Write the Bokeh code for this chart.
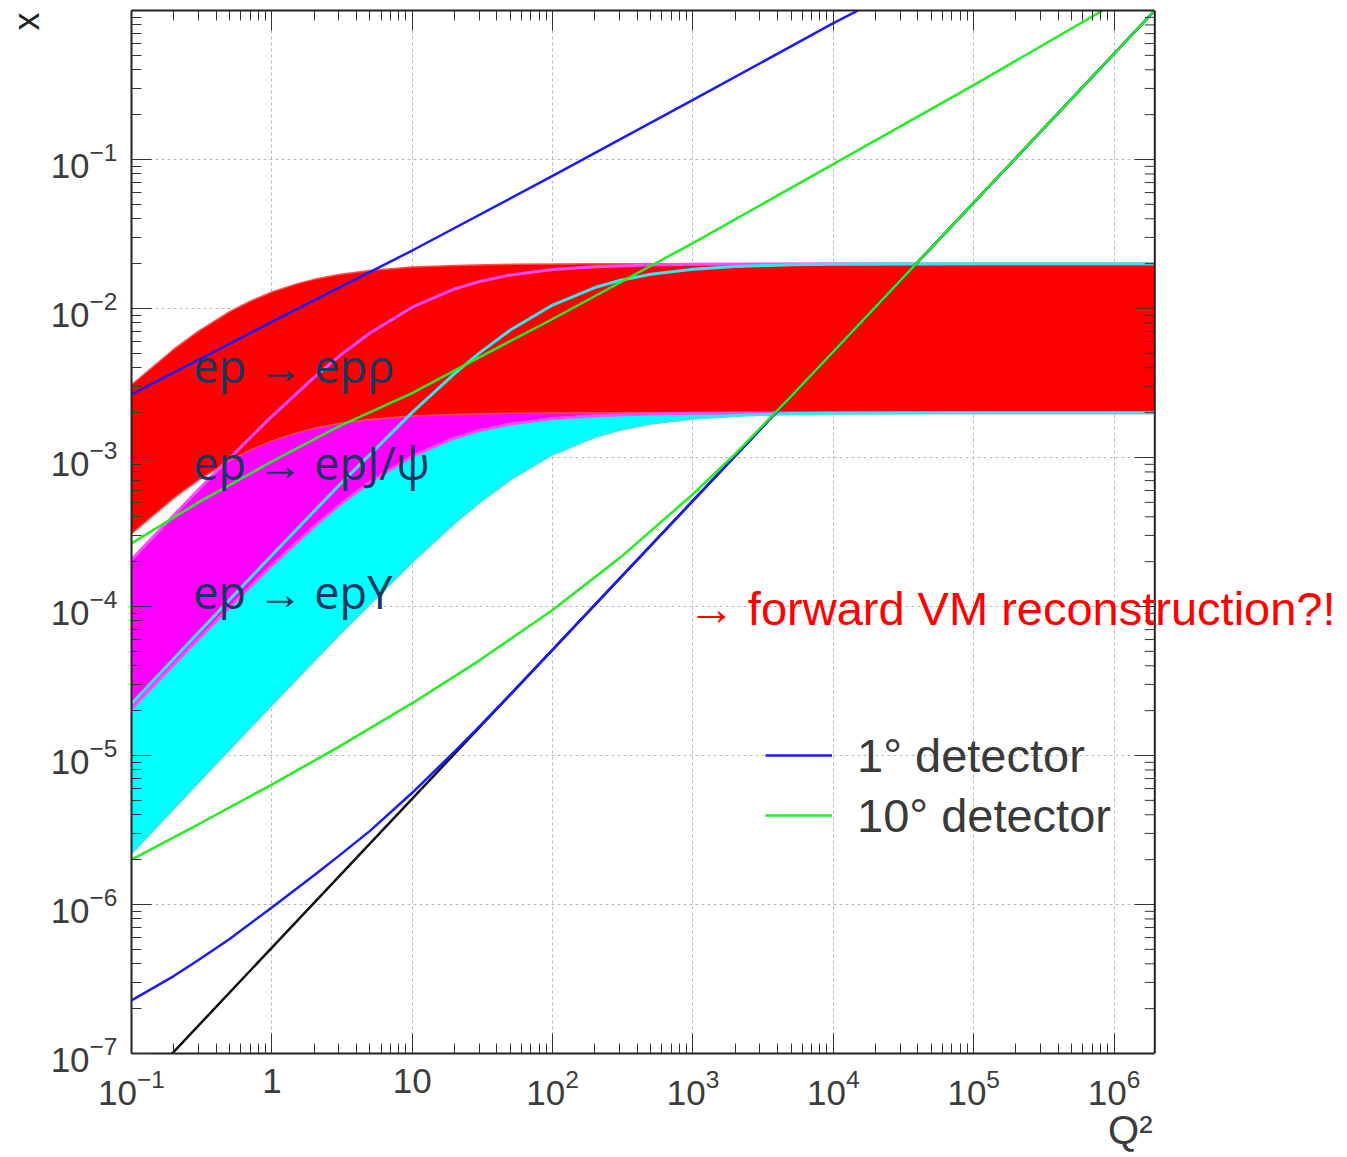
import math
from bokeh.plotting import figure
from bokeh.models import (LogAxis, FixedTicker, Label, Legend, LegendItem, Range1d, Span, Title)
from bokeh.embed import file_html
from bokeh.resources import INLINE

# ---------------- data ----------------
# ep -> ep rho band
q2_rho = [0.1, 0.2, 0.3, 0.5, 0.7, 1, 1.5, 2, 3, 5, 10, 20, 50, 200, 1.95e6]
x_rho_hi = [0.00308, 0.00533, 0.00706, 0.00952, 0.0112, 0.0129, 0.01463, 0.01569,
            0.0169, 0.0180, 0.01896, 0.01946, 0.01978, 0.01995, 0.0200]
x_rho_lo = [0.000308, 0.000533, 0.000706, 0.000952, 0.00112, 0.00129, 0.001463, 0.001569,
            0.00169, 0.00180, 0.001896, 0.001946, 0.001978, 0.001995, 0.00200]

# ep -> ep J/psi band
q2_jpsi = [0.1, 0.2, 0.3, 0.5, 1, 2, 3, 5, 10, 20, 30, 50, 100, 200, 500, 1000, 1e4, 1.95e6]
x_jpsi_hi = [2.06e-4, 4.09e-4, 6.07e-4, 9.91e-4, 1.89e-3, 3.45e-3, 4.77e-3, 6.85e-3, 1.021e-2,
             1.352e-2, 1.516e-2, 1.678e-2, 1.825e-2, 1.908e-2, 1.962e-2, 1.981e-2, 1.998e-2, 2.0e-2]
x_jpsi_lo = [2.06e-5, 4.09e-5, 6.07e-5, 9.91e-5, 1.89e-4, 3.45e-4, 4.77e-4, 6.85e-4, 1.021e-3,
             1.352e-3, 1.516e-3, 1.678e-3, 1.825e-3, 1.908e-3, 1.962e-3, 1.981e-3, 1.998e-3, 2.0e-3]

# ep -> ep Upsilon band
q2_ups = [0.1, 0.3, 1, 3, 10, 20, 30, 50, 100, 200, 300, 500, 1000, 2000, 5000, 1e4, 1e5, 1.95e6]
x_ups_hi = [2.23e-5, 6.68e-5, 2.21e-4, 6.49e-4, 2.01e-3, 3.65e-3, 5.02e-3, 7.17e-3, 1.055e-2,
            1.382e-2, 1.540e-2, 1.696e-2, 1.836e-2, 1.914e-2, 1.965e-2, 1.982e-2, 1.998e-2, 2.0e-2]
x_ups_lo = [2.23e-6, 6.68e-6, 2.21e-5, 6.49e-5, 2.01e-4, 3.65e-4, 5.02e-4, 7.17e-4, 1.055e-3,
            1.382e-3, 1.540e-3, 1.696e-3, 1.836e-3, 1.914e-3, 1.965e-3, 1.982e-3, 1.998e-3, 2.0e-3]

# kinematic limit (black)
q2_black = [0.1, 1.95e6]
x_black = [5.13e-8, 1.0]

# 1 degree detector (blue)
q2_blue_up = [0.1, 1, 10, 100, 1000, 1e4, 1.5e4]
x_blue_up = [2.65e-3, 8.13e-3, 2.45e-2, 7.76e-2, 0.251, 0.822, 1.0]
q2_blue_lo = [0.1, 0.2, 0.3, 0.5, 1, 2, 3, 5, 10, 20, 30, 50, 100, 1000, 1e4, 1e5, 1.95e6]
x_blue_lo = [2.27e-7, 3.31e-7, 4.24e-7, 5.87e-7, 9.55e-7, 1.57e-6, 2.12e-6, 3.12e-6, 5.62e-6,
             1.062e-5, 1.563e-5, 2.576e-5, 5.13e-5, 5.13e-4, 5.13e-3, 5.13e-2, 1.0]

# 10 degree detector (green)
q2_green_up = [0.1, 0.3, 1, 3, 10, 30, 100, 1000, 1e4, 1e5, 8.3e5]
x_green_up = [2.65e-4, 5.0e-4, 9.4e-4, 1.62e-3, 2.7e-3, 4.7e-3, 8.5e-3, 2.75e-2, 9.3e-2, 0.316, 1.0]
q2_green_lo = [0.1, 0.3, 1, 3, 10, 30, 100, 300, 1000, 2000, 5000, 1e4, 1e5, 1.95e6]
x_green_lo = [2.0e-6, 3.455e-6, 6.38e-6, 1.143e-5, 2.244e-5, 4.335e-5, 9.48e-5, 2.113e-4,
              5.675e-4, 1.059e-3, 2.576e-3, 5.13e-3, 5.13e-2, 1.0]

legend_labels = ["1° detector", "10° detector"]
x_major = [0.1, 1.0, 10.0, 100.0, 1e3, 1e4, 1e5, 1e6]
y_major = [1e-7, 1e-6, 1e-5, 1e-4, 1e-3, 1e-2, 1e-1]

# ---------------- figure ----------------
X_MAX = 1.95e6          # right edge of the drawn frame
X_END = 4.6e7           # canvas right edge (room for the red note)
p = figure(width=1347, height=1157, x_axis_type="log", y_axis_type="log",
           x_range=Range1d(0.1, X_END), y_range=Range1d(1e-7, 1.0),
           output_backend="svg", toolbar_location=None,
           min_border_left=131, min_border_right=0, min_border_top=10, min_border_bottom=104,
           background_fill_color="white", border_fill_color="white")
p.outline_line_color = None

x_minor = [k * m for m in x_major for k in range(2, 10) if k * m <= X_MAX]
y_minor = [k * m for m in y_major for k in range(2, 10)]

tick_font = "Liberation Sans"
frame_col = "#222222"
for ax, major, minor in [(p.xaxis[0], x_major, x_minor), (p.yaxis[0], y_major, y_minor)]:
    ax.ticker = FixedTicker(ticks=major, minor_ticks=minor)
    ax.major_tick_in = 20
    ax.major_tick_out = 0
    ax.minor_tick_in = 10
    ax.minor_tick_out = 0
    ax.axis_line_width = 2
    ax.axis_line_color = frame_col
    ax.major_tick_line_color = "#333333"
    ax.minor_tick_line_color = "#333333"
    ax.major_label_text_font = tick_font
    ax.major_label_text_font_size = "35px"
    ax.major_label_text_color = "#3c3c3c"

p.xaxis[0].bounds = (0.1, X_MAX)
p.xaxis[0].major_label_standoff = 15
p.xaxis[0].major_label_overrides = {1.0: "1", 10.0: "10"}
p.yaxis[0].major_label_standoff = 14

top = LogAxis(ticker=FixedTicker(ticks=x_major, minor_ticks=x_minor), bounds=(0.1, X_MAX),
              major_tick_in=20, major_tick_out=0, minor_tick_in=10, minor_tick_out=0,
              axis_line_width=2, axis_line_color=frame_col,
              major_tick_line_color="#333333", minor_tick_line_color="#333333",
              major_label_text_font_size="1px", major_label_text_color=None,
              major_label_standoff=0)
p.add_layout(top, "above")

# axis titles (placed in the side panels)
p.add_layout(Title(text="Q²", align="right", offset=195, standoff=0, vertical_align="top",
                   text_font=tick_font, text_font_size="40px", text_font_style="normal",
                   text_line_height=0.9, text_color="#3c3c3c"), "below")
p.add_layout(Title(text="x", align="right", offset=2, standoff=0, vertical_align="middle",
                   text_font=tick_font, text_font_size="36px", text_font_style="normal",
                   text_color="#222222"), "left")

p.xgrid[0].bounds = (0.1, X_MAX)
for g in (p.xgrid[0], p.ygrid[0]):
    g.grid_line_color = "#b8b8b8"
    g.grid_line_dash = "3 3"
    g.grid_line_width = 1

# white area right of the frame (hides the horizontal grid there)
p.quad(left=[X_MAX], right=[X_END], bottom=[1e-7], top=[1.0],
       fill_color="white", line_color=None)

# bands
p.varea(x=q2_ups, y1=x_ups_lo, y2=x_ups_hi, fill_color="#00ffff")
p.varea(x=q2_jpsi, y1=x_jpsi_lo, y2=x_jpsi_hi, fill_color="#ff00ff")
p.varea(x=q2_rho, y1=x_rho_lo, y2=x_rho_hi, fill_color="#ff0000")

p.line(q2_rho, x_rho_hi, line_color="#ff5050", line_width=1.5)
p.line(q2_rho, x_rho_lo, line_color="#ff5050", line_width=1.5)
p.line(q2_jpsi, x_jpsi_hi, line_color="#ff48ff", line_width=3)
p.line(q2_jpsi, x_jpsi_lo, line_color="#ff48ff", line_width=3)
p.line(q2_ups, x_ups_hi, line_color="#30e8f0", line_width=3)
p.line(q2_ups, x_ups_lo, line_color="#30e8f0", line_width=3)

# kinematic lines
p.line(q2_black, x_black, line_color="#111111", line_width=2.5)
r_blue = p.line(q2_blue_up, x_blue_up, line_color="#1a1aff", line_width=2.5)
p.line(q2_blue_lo, x_blue_lo, line_color="#1a1aff", line_width=2.5)
r_green = p.line(q2_green_up, x_green_up, line_color="#22ee22", line_width=2.5)
p.line(q2_green_lo, x_green_lo, line_color="#22ee22", line_width=2.5)

# right frame edge with inward ticks
p.ray(x=[X_MAX] * len(y_major), y=y_major, length=20, angle=math.pi,
      length_units="screen", line_color="#333333", line_width=1)
p.ray(x=[X_MAX] * len(y_minor), y=y_minor, length=10, angle=math.pi,
      length_units="screen", line_color="#333333", line_width=1)
p.add_layout(Span(location=X_MAX, dimension="height", line_color=frame_col, line_width=2))

legend = Legend(items=[LegendItem(label=legend_labels[0], renderers=[r_blue]),
                       LegendItem(label=legend_labels[1], renderers=[r_green])],
                location=(634, 208), orientation="vertical",
                glyph_width=67, glyph_height=60, label_height=60, spacing=0,
                padding=0, margin=0, label_standoff=25,
                label_text_font="Liberation Sans", label_text_font_size="47px",
                label_text_color="#3a3a3a",
                border_line_color=None, background_fill_alpha=0)
p.add_layout(legend)

# texts
txt_col = "#17375e"
for xv, yv, t in [(0.275, 3.14e-3, "ep → epρ"), (0.275, 7.0e-4, "ep → epJ/ψ"),
                  (0.275, 9.55e-5, "ep → epΥ")]:
    p.add_layout(Label(x=xv, y=yv, y_offset=18, text=t, text_font="Open Sans",
                       text_font_size="45px", text_color=txt_col,
                       text_baseline="alphabetic", text_align="left"))

p.add_layout(Label(x=1047, y=7.45e-5, x_offset=-8, y_offset=17,
                   text="→ forward VM reconstruction?!",
                   text_font="Liberation Sans", text_font_size="47px",
                   text_color="#ff0000", text_baseline="alphabetic", text_align="left"))

open("out.html", "w").write(file_html(p, INLINE))
